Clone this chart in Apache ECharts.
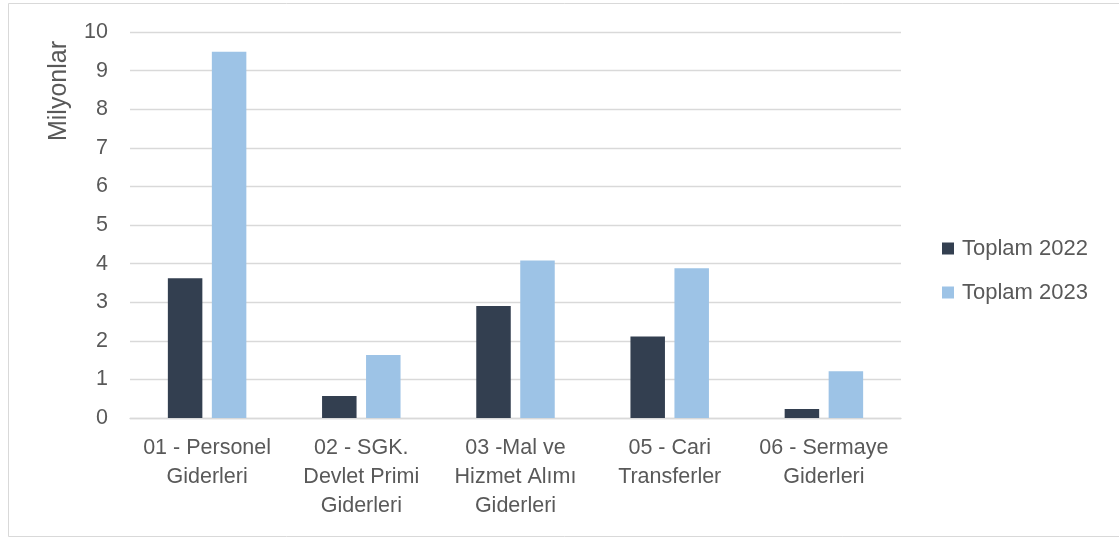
<!DOCTYPE html>
<html>
<head>
<meta charset="utf-8">
<script src="https://cdn.jsdelivr.net/npm/echarts@6/dist/echarts.min.js"></script>
<style>html,body{margin:0;padding:0;background:#fff}#c{width:1119px;height:538px}</style>
</head>
<body>
<div id="c"></div>
<script>
const categories = [
  "01 - Personel\nGiderleri",
  "02 - SGK.\nDevlet Primi\nGiderleri",
  "03 -Mal ve\nHizmet Alımı\nGiderleri",
  "05 - Cari\nTransferler",
  "06 - Sermaye\nGiderleri"
];
const seriesNames = ["Toplam 2022", "Toplam 2023"];
const total2022 = [3.62, 0.57, 2.90, 2.11, 0.23];
const total2023 = [9.49, 1.63, 4.08, 3.88, 1.21];
const yTicks = [0, 1, 2, 3, 4, 5, 6, 7, 8, 9, 10];
const yTitle = "Milyonlar";

const FONT = "Liberation Sans";
const TXT = "#595959";
const chart = echarts.init(document.getElementById('c'), null, {renderer: 'canvas'});
chart.setOption({
  animation: false,
  backgroundColor: '#fff',
  textStyle: {fontFamily: FONT},
  grid: {left: 130, right: 218, top: 32, bottom: 120, containLabel: false},
  legend: {
    orient: 'vertical',
    left: 937,
    top: 231,
    icon: 'rect',
    itemWidth: 12,
    itemHeight: 12,
    itemGap: 19,
    data: seriesNames,
    textStyle: {fontFamily: FONT, fontSize: 22, color: TXT, lineHeight: 25, padding: [0, 0, 0, 3]}
  },
  graphic: [
    {type: 'rect', shape: {x: 8.5, y: 3.5, width: 1200, height: 533}, style: {fill: 'none', stroke: '#d9d9d9', lineWidth: 1}, silent: true},
    {type: 'text', x: 59, y: 91, rotation: Math.PI / 2,
     style: {text: yTitle, font: '25px ' + FONT, fill: TXT, textAlign: 'center', textVerticalAlign: 'middle'}}
  ],
  xAxis: {
    type: 'category',
    data: categories,
    axisLine: {show: true, lineStyle: {color: '#d9d9d9', width: 1.3}},
    axisTick: {show: false},
    axisLabel: {color: TXT, fontFamily: FONT, fontSize: 21.5, lineHeight: 29, margin: 16, interval: 0, align: 'center'}
  },
  yAxis: {
    type: 'value',
    min: yTicks[0],
    max: yTicks[yTicks.length - 1],
    interval: 1,
    axisLine: {show: false},
    axisTick: {show: false},
    splitLine: {lineStyle: {color: '#d9d9d9', width: 1.3}},
    axisLabel: {color: TXT, fontFamily: FONT, fontSize: 21.5, margin: 22}
  },
  series: [
    {name: seriesNames[0], type: 'bar', data: total2022, barWidth: 34.5, barGap: '27.5%', itemStyle: {color: '#333F50'}},
    {name: seriesNames[1], type: 'bar', data: total2023, barWidth: 34.5, barGap: '27.5%', itemStyle: {color: '#9DC3E6'}}
  ]
});
</script>
</body>
</html>
